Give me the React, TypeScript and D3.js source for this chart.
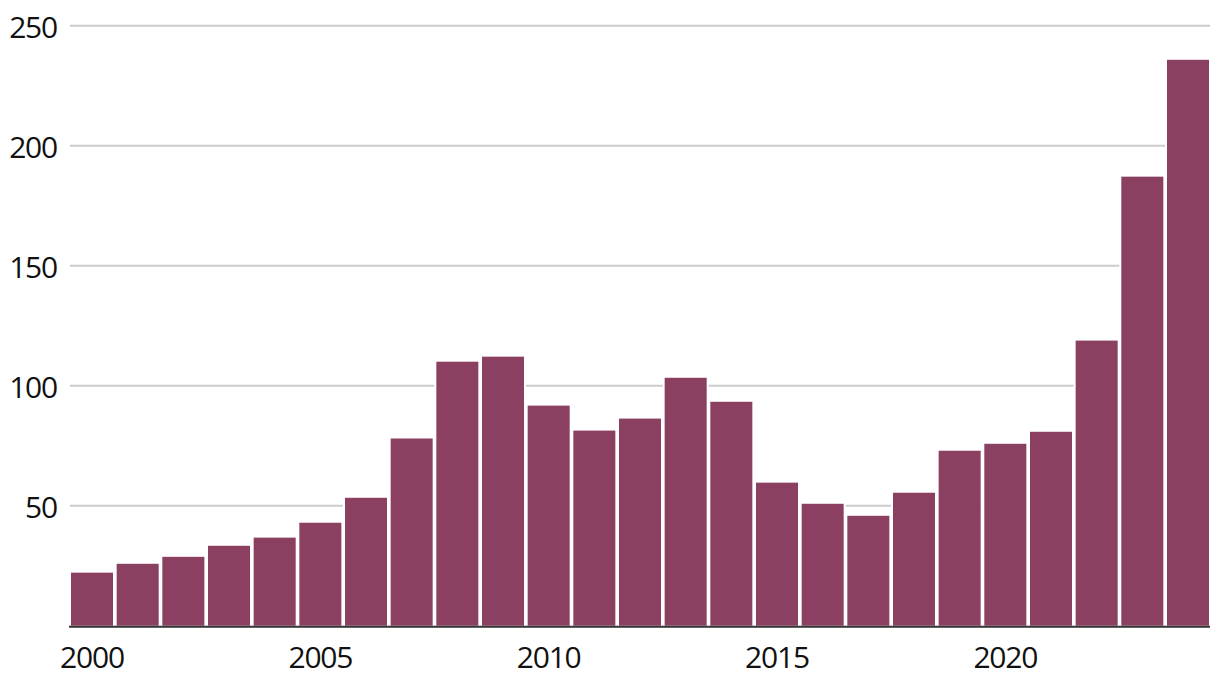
import React from "react";
import * as d3 from "d3";

const years: number[] = [
  2000, 2001, 2002, 2003, 2004, 2005, 2006, 2007, 2008, 2009, 2010, 2011, 2012,
  2013, 2014, 2015, 2016, 2017, 2018, 2019, 2020, 2021, 2022, 2023, 2024,
];
const values: number[] = [
  22.1, 25.8, 28.7, 33.3, 36.7, 42.9, 53.3, 78.0, 110.0, 112.1, 91.7, 81.3,
  86.3, 103.3, 93.3, 59.6, 50.8, 45.8, 55.4, 72.9, 75.8, 80.8, 118.8, 187.1,
  235.8,
];
const yTicks: number[] = [50, 100, 150, 200, 250];
const xTickLabels: number[] = [2000, 2005, 2010, 2015, 2020];

const W = 1220;
const H = 688;
const FONT = "'Open Sans', 'Noto Sans', sans-serif";
const BAR = "#8b3f61";

export default function App() {
  const x = d3
    .scaleBand<number>()
    .domain(years)
    .range([71, 1209])
    .paddingInner(0.08)
    .paddingOuter(0);
  const y = d3.scaleLinear().domain([0, 250]).range([625.7, 25.7]);
  const bw = x.bandwidth();

  return (
    <svg
      width={W}
      height={H}
      style={{ position: "absolute", left: 0, top: 0, background: "#fff" }}
      fontFamily={FONT}
    >
      {yTicks.map((t) => (
        <g key={t}>
          <line x1={70} x2={1210} y1={y(t)} y2={y(t)} stroke="#cccccc" strokeWidth={2} />
          <text
            x={57}
            y={y(t) + 12.5}
            textAnchor="end"
            fontSize={30}
            letterSpacing={-1.2}
            fill="#111"
          >
            {t}
          </text>
        </g>
      ))}
      {years.map((yr, i) => (
        <rect
          key={yr}
          x={(x(yr) as number) - 2}
          y={y(values[i]) - 2}
          width={bw + 4}
          height={y(0) - y(values[i]) + 2}
          fill="#fff"
        />
      ))}
      {years.map((yr, i) => (
        <rect
          key={"b" + yr}
          x={x(yr) as number}
          y={y(values[i])}
          width={bw}
          height={y(0) - y(values[i])}
          fill={BAR}
        />
      ))}
      <line x1={69} x2={1210} y1={y(0) + 1} y2={y(0) + 1} stroke="#333" strokeWidth={2} />
      {xTickLabels.map((t) => (
        <text
          key={t}
          x={(x(t) as number) + bw / 2}
          y={668}
          textAnchor="middle"
          fontSize={30}
          letterSpacing={-1.2}
          fill="#111"
        >
          {t}
        </text>
      ))}
    </svg>
  );
}
